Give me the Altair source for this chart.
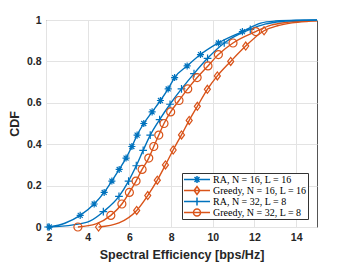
import altair as alt
import pandas as pd

series_names = ["RA, N = 16, L = 16", "Greedy, N = 16, L = 16",
                "RA, N = 32, L = 8", "Greedy, N = 32, L = 8"]
series_colors = ["#0072BD", "#D95319", "#0072BD", "#D95319"]

# marker positions
ra16_x = [2.16, 3.64, 4.31, 4.79, 5.16, 5.51, 5.84, 6.12, 6.37, 6.69, 7.09, 7.49,
          7.86, 8.17, 8.77, 9.41, 10.27, 11.42]
ra16_y = [0.0, 0.056, 0.111, 0.167, 0.222, 0.278, 0.333, 0.389, 0.444, 0.5, 0.556,
          0.611, 0.667, 0.722, 0.778, 0.833, 0.889, 0.944]

gr16_x = [4.52, 6.35, 6.88, 7.34, 7.73, 8.1, 8.5, 8.87, 9.26, 9.74, 10.22, 10.86, 11.58, 12.46]
gr16_y = [0.0, 0.08, 0.152, 0.226, 0.30, 0.372, 0.445, 0.515, 0.583, 0.665, 0.73, 0.80,
          0.874, 0.948]

ra32_x = [2.1, 4.75, 5.5, 5.96, 6.33, 6.66, 7.0, 7.45, 7.95, 8.5, 9.1, 9.75, 10.55, 11.8]
ra32_y = [0.0, 0.074, 0.148, 0.222, 0.296, 0.370, 0.444, 0.519, 0.593, 0.667, 0.741,
          0.815, 0.889, 0.955]

gr32_x = [3.53, 5.11, 5.64, 6.0, 6.32, 6.61, 6.93, 7.17, 7.41, 7.66, 7.98, 8.38, 8.8,
          9.25, 9.77, 10.27, 10.97, 12.06]
gr32_y = [0.0, 0.056, 0.111, 0.167, 0.222, 0.278, 0.333, 0.389, 0.444, 0.5, 0.556,
          0.611, 0.667, 0.722, 0.778, 0.833, 0.889, 0.944]

# extra points of the curves between / beyond the markers
ra16_line_x = [2.9, 12.3, 13.0, 14.0, 15.0]
ra16_line_y = [0.018, 0.985, 0.995, 0.999, 1.0]
gr16_line_x = [5.5, 13.1, 13.8, 14.5, 15.0]
gr16_line_y = [0.02, 0.972, 0.986, 0.993, 0.996]
ra32_line_x = [3.3, 4.1, 12.5, 13.3, 14.5, 15.0]
ra32_line_y = [0.01, 0.028, 0.98, 0.993, 0.999, 1.0]
gr32_line_x = [4.4, 12.8, 13.5, 14.3, 15.0]
gr32_line_y = [0.015, 0.975, 0.988, 0.995, 0.997]

x_ticks = [2, 4, 6, 8, 10, 12, 14]
y_ticks = [0, 0.2, 0.4, 0.6, 0.8, 1.0]

marker_xy = [(ra16_x, ra16_y), (gr16_x, gr16_y), (ra32_x, ra32_y), (gr32_x, gr32_y)]
line_xy = [(ra16_line_x, ra16_line_y), (gr16_line_x, gr16_line_y),
           (ra32_line_x, ra32_line_y), (gr32_line_x, gr32_line_y)]

mark_rows, line_rows = [], []
for name, (mx, my), (lx, ly) in zip(series_names, marker_xy, line_xy):
    for a, b in zip(mx, my):
        mark_rows.append({"series": name, "x": a, "y": b})
        line_rows.append({"series": name, "x": a, "y": b})
    for a, b in zip(lx, ly):
        line_rows.append({"series": name, "x": a, "y": b})
df_mark = pd.DataFrame(mark_rows)
df_line = pd.DataFrame(line_rows).sort_values(["series", "x"])

plot_shapes = [
    "M-1,0H1M0,-1V1M-0.7,-0.7L0.7,0.7M-0.7,0.7L0.7,-0.7",
    "M-0.75,0L0,-1L0.75,0L0,1Z",
    "M-1,0H1M0,-1V1",
    "circle",
]
legend_shapes = [
    "M-1,0H1M-0.27,0H0.27M0,-0.27V0.27M-0.19,-0.19L0.19,0.19M-0.19,0.19L0.19,-0.19",
    "M-1,0H1M-0.22,0L0,-0.3L0.22,0L0,0.3Z",
    "M-1,0H1M0,-0.3V0.3",
    "M-1,0H1M-0.27,0A0.27,0.27 0 1,0 0.27,0A0.27,0.27 0 1,0 -0.27,0",
]
plot_sizes = [50, 64, 60, 64]

legend = alt.Legend(title=None, orient="none", legendX=136, legendY=153,
                    labelFont="Liberation Serif", labelFontSize=10, labelColor="black",
                    symbolSize=676, symbolStrokeWidth=1.5, clipHeight=11,
                    padding=1, rowPadding=0, labelOffset=2, symbolOpacity=1,
                    strokeColor="#333333", fillColor="white", symbolFillColor="transparent")

color_scale = alt.Scale(domain=series_names, range=series_colors)
xenc = alt.X("x:Q", scale=alt.Scale(domain=[2, 15], nice=False),
             axis=alt.Axis(values=x_ticks, title="Spectral Efficiency [bps/Hz]"))
yenc = alt.Y("y:Q", scale=alt.Scale(domain=[0, 1], nice=False),
             axis=alt.Axis(values=y_ticks, format=".1~f", title="CDF"))
cenc = alt.Color("series:N", scale=color_scale, legend=legend, sort=series_names)

lines = alt.Chart(df_line).mark_line(strokeWidth=1.4, interpolate="monotone").encode(
    x=xenc, y=yenc, color=cenc)

layers = [lines]
for name, shp, sz in zip(series_names, plot_shapes, plot_sizes):
    layers.append(
        alt.Chart(df_mark).transform_filter(alt.datum.series == name)
        .mark_point(shape=shp, size=sz, filled=False, strokeWidth=1.2, opacity=1)
        .encode(x=xenc, y=yenc, color=cenc)
    )

legend_layer = alt.Chart(df_mark).mark_point(opacity=0, filled=False).encode(
    x=xenc, y=yenc, color=cenc,
    shape=alt.Shape("series:N", scale=alt.Scale(domain=series_names, range=legend_shapes),
                    legend=legend, sort=series_names))
layers.append(legend_layer)

chart = alt.layer(*layers).properties(
    width=271, height=207,
    autosize=alt.AutoSizeParams(type="none"),
    padding={"left": 38, "top": 12, "right": 25, "bottom": 40},
).configure_view(stroke="#555555", strokeWidth=1).configure_axis(
    grid=True, gridColor="#e3e3e3", gridWidth=1, domain=False, ticks=False,
    labelFont="Liberation Sans", labelFontSize=10.5, labelFontWeight="bold",
    labelColor="#262626", titleFont="Liberation Sans", titleFontSize=12.5,
    titleFontWeight="bold", titleColor="#262626", labelPadding=5,
).configure_axisY(titlePadding=5).configure_axisX(titlePadding=6)

chart.save("out.html", embed_options={"renderer": "svg", "actions": False})
